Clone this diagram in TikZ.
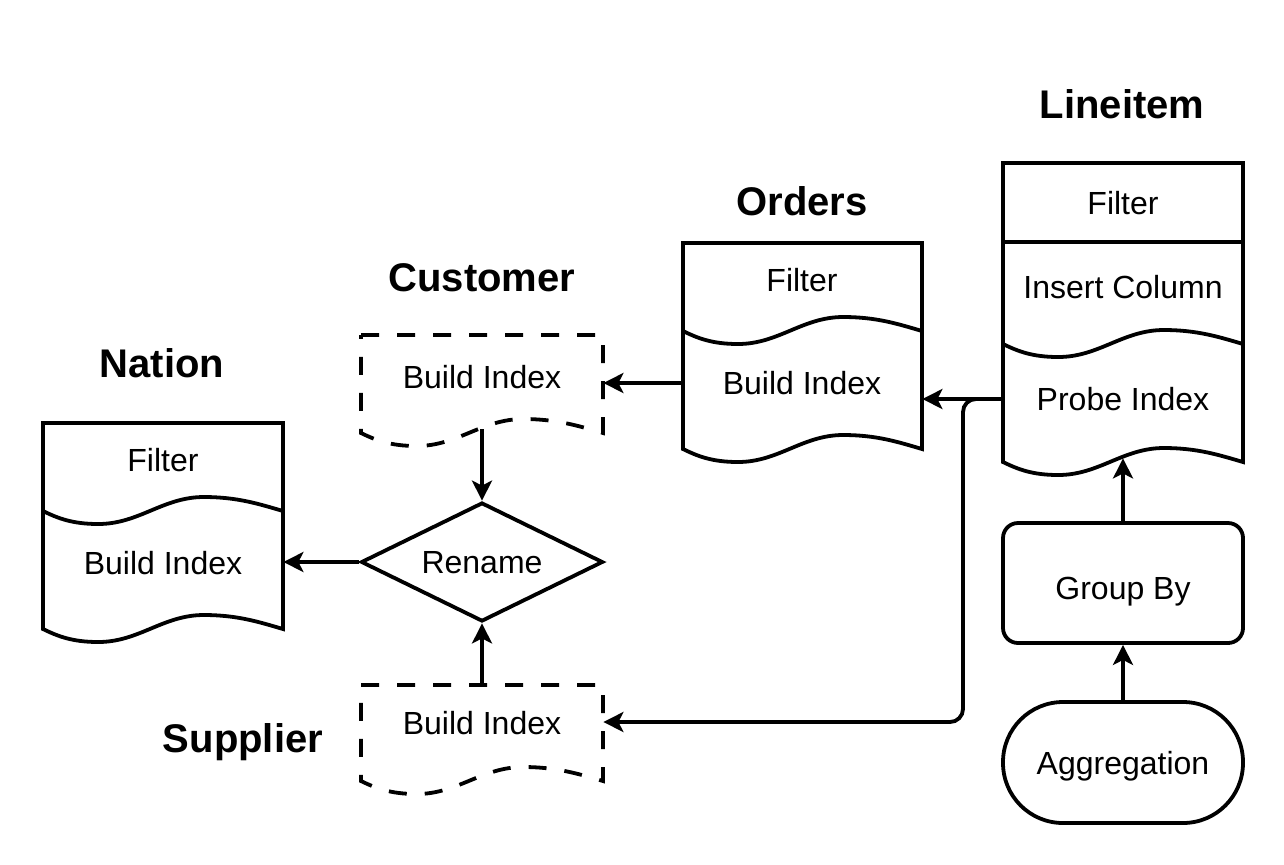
\documentclass[tikz,border=0pt]{standalone}
\usepackage{fontspec}
\setmainfont{Liberation Sans}
\usetikzlibrary{positioning,shapes.geometric,arrows.meta}

\tikzset{
  lbl/.style={inner sep=0pt, text height=11.5pt, text depth=0pt, font=\fontsize{16}{19}\selectfont},
  title/.style={inner sep=0pt, text height=14.3pt, text depth=0pt, font=\fontsize{20}{24}\selectfont\bfseries},
  frame/.style={inner sep=0pt, minimum width=120pt},
  outline/.style={line width=1.9pt},
  dashline/.style={outline, dash pattern=on 9pt off 9pt},
  arr/.style={line width=1.9pt, -{Stealth[length=10pt,width=10pt,inset=2.5pt]}},
}

% wavy lower edge of a document shape, from (x1,y) back to (x0,y)
\newcommand{\docwave}[3]{-- (#2,#3) .. controls ({#2-0.1*(#2-#1)},{#3-7}) and ({#1+0.81*(#2-#1)},{#3-14}) .. ({#1+0.67*(#2-#1)},{#3-14}) .. controls ({#1+0.5*(#2-#1)},{#3-14}) and ({#1+0.4*(#2-#1)},{#3+13}) .. ({#1+0.23*(#2-#1)},{#3+13}) .. controls ({#1+0.12*(#2-#1)},{#3+13}) and ({#1+0.06*(#2-#1)},{#3+7}) .. (#1,#3)}

\begin{document}
\begin{tikzpicture}[x=0.5pt,y=-0.5pt]
\useasboundingbox[fill=white] (0,0) rectangle (1284,864);

% Nation
\node[title] (natTitle) at (162,363) {Nation};
\node[frame, minimum height=103pt] (nation) at (163,526) {};
\draw[outline] (43,423) -- (283,423) \docwave{43}{283}{629} -- cycle;
\draw[outline] (283,511) \docwave{43}{283}{511};
\node[lbl] (natFilter) at (163,460) {Filter};
\node[lbl] (natIdx) at (163,563) {Build Index};

% Customer
\node[title] (custTitle) at (482,277) {Customer};
\node[frame, minimum width=121pt, minimum height=49pt] (cust) at (482,384) {};
\draw[dashline] (361,335) -- (603,335) \docwave{361}{603}{433} -- cycle;
\node[lbl] (custIdx) at (482,377) {Build Index};

% Rename
\node[lbl, diamond, shape aspect=2, draw, outline, minimum width=121pt, minimum height=59.5pt] (rename) at (482,562) {Rename};

% Supplier
\node[title] (suppTitle) at (243,738) {Supplier};
\node[frame, minimum width=121pt, minimum height=48pt] (supp) at (482,733) {};
\draw[dashline] (361,685) -- (603,685) \docwave{361}{603}{781} -- cycle;
\node[lbl] (suppIdx) at (482,723) {Build Index};

% Orders
\node[title] (ordTitle) at (802,201) {Orders};
\node[frame, minimum width=119.5pt, minimum height=103pt] (orders) at (802.5,346) {};
\draw[outline] (683,243) -- (922,243) \docwave{683}{922}{449} -- cycle;
\draw[outline] (922,331) \docwave{683}{922}{331};
\node[lbl] (ordFilter) at (802,280) {Filter};
\node[lbl] (ordIdx) at (802,383) {Build Index};

% Lineitem
\node[title] (liTitle) at (1122,104) {Lineitem};
\node[frame, minimum height=149.5pt] (lineitem) at (1123,312.5) {};
\draw[outline] (1003,163) -- (1243,163) \docwave{1003}{1243}{462} -- cycle;
\draw[outline] (1003,242) -- (1243,242);
\draw[outline] (1243,344) \docwave{1003}{1243}{344};
\node[lbl] (liFilter) at (1123,203) {Filter};
\node[lbl] (liInsert) at (1123,287) {Insert Column};
\node[lbl] (liProbe) at (1123,399) {Probe Index};

% Group By and Aggregation
\node[lbl, text height=16.5pt, draw, outline, rounded corners=7.5pt, minimum width=120pt, minimum height=60pt] (groupby) at (1123,583) {Group By};
\node[lbl, draw, outline, rounded corners=30pt, minimum width=120pt, minimum height=60.5pt] (agg) at (1123,762.5) {Aggregation};

% connectors
\draw[arr] (ordIdx -| orders.west) -- (ordIdx -| cust.east);
\draw[arr] (liProbe -| lineitem.west) -- (liProbe -| orders.east);
\coordinate (bend) at (963,722);
\draw[arr, rounded corners=6.5pt] (liProbe -| lineitem.west) -| (bend) -- (bend -| supp.east);
\draw[arr] ([yshift=2pt]cust.south) -- (rename.north);
\draw[arr] (supp.north) -- (rename.south);
\draw[arr] (rename.west) -- (rename.west -| nation.east);
\draw[arr] (groupby.north) -- ([yshift=2pt]groupby.north |- lineitem.south);
\draw[arr] (agg.north) -- (groupby.south);

\end{tikzpicture}
\end{document}
